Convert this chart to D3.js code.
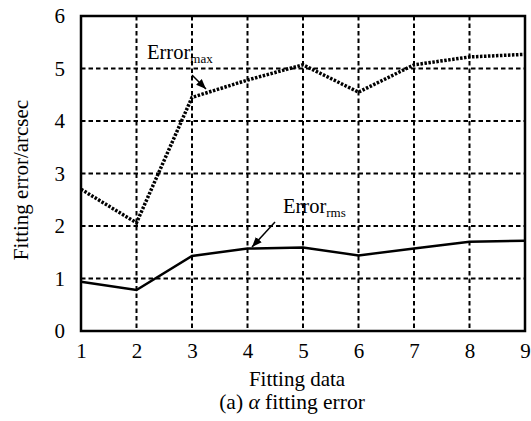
<!DOCTYPE html>
<html><head><meta charset="utf-8">
<script src="https://cdn.jsdelivr.net/npm/d3@7"></script>
<style>body{margin:0;background:#fff}text{font-family:"Liberation Serif","Times New Roman",serif;fill:#000}</style>
</head><body><svg id="c" width="531" height="421"></svg>
<script>
const xValues = [1,2,3,4,5,6,7,8,9];
const errorMax = [2.70,2.06,4.45,4.78,5.07,4.55,5.07,5.22,5.27];
const errorRms = [0.94,0.78,1.43,1.57,1.59,1.44,1.57,1.70,1.72];
const yTicks = [0,1,2,3,4,5,6];

const svg = d3.select("#c");
const L=81,R=525,T=16,B=331;
const x = d3.scaleLinear().domain([1,9]).range([L,R]);
const y = d3.scaleLinear().domain([0,6]).range([B,T]);

// grid
const g = svg.append("g");
g.selectAll(".gx").data(xValues.slice(1,-1)).enter().append("line")
 .attr("x1",d=>x(d)).attr("x2",d=>x(d)).attr("y1",T).attr("y2",B)
 .attr("stroke","#000").attr("stroke-width",2).attr("stroke-dasharray","4.5,3");
g.selectAll(".gy").data(yTicks.slice(1,-1)).enter().append("line")
 .attr("y1",d=>y(d)).attr("y2",d=>y(d)).attr("x1",L).attr("x2",R)
 .attr("stroke","#000").attr("stroke-width",2).attr("stroke-dasharray","4.5,3");

// lines
const line = d3.line().x((d,i)=>x(xValues[i])).y(d=>y(d));
svg.append("path").datum(errorRms).attr("d",line).attr("fill","none").attr("stroke","#000").attr("stroke-width",2.5);
svg.append("path").datum(errorMax).attr("d",line).attr("fill","none").attr("stroke","#000").attr("stroke-width",3.5).attr("stroke-dasharray","2.5,1.5");

// frame
svg.append("rect").attr("x",L).attr("y",T).attr("width",R-L).attr("height",B-T).attr("fill","none").attr("stroke","#000").attr("stroke-width",2.5);

// axes tick labels
const xa = d3.axisBottom(x).tickValues(xValues).tickFormat(d3.format("d")).tickSize(0).tickPadding(12);
const xg = svg.append("g").attr("transform",`translate(0,${B})`).call(xa);
const ya = d3.axisLeft(y).tickValues(yTicks).tickFormat(d3.format("d")).tickSize(0).tickPadding(16);
const yg = svg.append("g").attr("transform",`translate(${L},0)`).call(ya);
[xg,yg].forEach(a=>{a.select(".domain").remove();a.selectAll("text").style("font-family",'"Liberation Serif",serif').style("font-size","21px").attr("fill","#000");});

// titles
svg.append("text").attr("x",297).attr("y",386).attr("text-anchor","middle").style("font-size","21px").text("Fitting data");
const cap = svg.append("text").attr("x",292).attr("y",409).attr("text-anchor","middle").style("font-size","21.5px");
cap.append("tspan").text("(a) ");
cap.append("tspan").style("font-style","italic").text("α");
cap.append("tspan").text(" fitting error");
svg.append("text").attr("transform","translate(28,180) rotate(-90)").attr("text-anchor","middle").style("font-size","21px").text("Fitting error/arcsec");

// annotations
const a1 = svg.append("text").attr("x",147).attr("y",59).style("font-size","20.5px");
a1.append("tspan").text("Error");
a1.append("tspan").attr("dy",4).style("font-size","13px").text("max");
const a2 = svg.append("text").attr("x",283).attr("y",213).style("font-size","20.5px");
a2.append("tspan").text("Error");
a2.append("tspan").attr("dy",4).style("font-size","13px").text("rms");

svg.append("defs").append("marker").attr("id","ah").attr("viewBox","0 0 10 10").attr("refX",10).attr("refY",5)
 .attr("markerWidth",10).attr("markerHeight",10).attr("markerUnits","userSpaceOnUse").attr("orient","auto")
 .append("path").attr("d","M0,1 L10,5 L0,9 Z").attr("fill","#000");
svg.append("line").attr("x1",192).attr("y1",75).attr("x2",206).attr("y2",89).attr("stroke","#000").attr("stroke-width",1.5).attr("marker-end","url(#ah)");
svg.append("line").attr("x1",275).attr("y1",222).attr("x2",252).attr("y2",247).attr("stroke","#000").attr("stroke-width",1.5).attr("marker-end","url(#ah)");
</script></body></html>
